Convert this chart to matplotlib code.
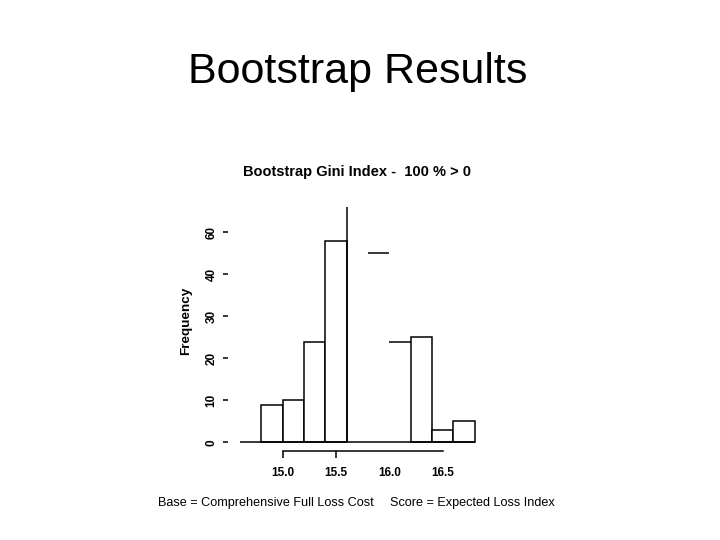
import numpy as np
import matplotlib
matplotlib.use("Agg")
import matplotlib.pyplot as plt

plt.rcParams['font.family'] = ['Liberation Sans', 'DejaVu Sans']

# histogram of bootstrap gini index values
bin_edges = [14.8, 15.0, 15.2, 15.4, 15.6, 15.8, 16.0, 16.2, 16.4, 16.6, 16.8]
counts = [9, 10, 24, 48, 56, 45, 24, 25, 3, 5]

x_ticks = [15.0, 15.5, 16.0, 16.5]
x_labels = ["15.0", "15.5", "16.0", "16.5"]
y_ticks = [0, 10, 20, 30, 40, 50]
y_labels = ["0", "10", "20", "30", "40", "60"]

main_title = "Bootstrap Results"
sub_title = "Bootstrap Gini Index -  100 % > 0"
base_note = "Base = Comprehensive Full Loss Cost"
score_note = "Score = Expected Loss Index"

W, H = 720, 540
fig = plt.figure(figsize=(7.2, 5.4), dpi=100)

# axes placed in pixel coordinates
left_px, right_px, top_px, bot_px = 228, 490, 195, 460
ax = fig.add_axes([left_px / W, 1 - bot_px / H, (right_px - left_px) / W, (bot_px - top_px) / H])

px_per_x = 106.7
x0_px = 282.7
px_per_y = 4.2
y0_px = 442.3
ax.set_xlim(15 - (x0_px - left_px) / px_per_x, 15 + (right_px - x0_px) / px_per_x)
ax.set_ylim((y0_px - bot_px) / px_per_y, (y0_px - top_px) / px_per_y)

edges = np.array(bin_edges)
lefts = edges[:-1]
rights = edges[1:]
cnt = np.array(counts)
widths = rights - lefts

# the picture only shows part of three bars
full = [0, 1, 2, 3, 7, 8, 9]
lw = 1.1
ax.bar(lefts[full], cnt[full], width=widths[full], align='edge',
       facecolor='white', edgecolor='black', linewidth=lw)
ax.vlines(lefts[4], 0, cnt[4], color='black', linewidth=lw)
ax.hlines(cnt[5], lefts[5], rights[5], color='black', linewidth=lw)
ax.hlines(cnt[6], lefts[6], rights[6], color='black', linewidth=lw)
ax.hlines(0, 14.6, edges[-1], color='black', linewidth=lw)

for s in ['top', 'right', 'left']:
    ax.spines[s].set_visible(False)
ax.spines['bottom'].set_position(('data', (y0_px - 451.3) / px_per_y))
ax.spines['bottom'].set_bounds(15.0, 16.5)
ax.spines['bottom'].set_linewidth(lw)

ax.set_xticks(x_ticks)
ax.set_xticklabels(x_labels, fontweight='bold')
for t in ax.xaxis.get_major_ticks()[2:]:
    t.tick1line.set_visible(False)
ax.set_yticks(y_ticks)
ax.set_yticklabels(y_labels, rotation=90, va='center', fontweight='bold')
ax.tick_params(axis='x', length=5, width=lw, pad=6, labelsize=8.5)
ax.tick_params(axis='y', length=3.6, width=lw, pad=4, labelsize=8.5)

fig.text(358 / W, 1 - 83.3 / H, main_title, fontsize=31, ha='center', va='baseline')
fig.text(357 / W, 1 - 176 / H, sub_title, fontsize=10.5, fontweight='bold',
         ha='center', va='baseline')
fig.text(186 / W, 1 - 321 / H, "Frequency", fontsize=9.7, fontweight='bold',
         rotation=90, ha='center', va='center')
fig.text(158 / W, 1 - 506 / H, base_note, fontsize=9.1, ha='left', va='baseline')
fig.text(555 / W, 1 - 506 / H, score_note, fontsize=9.1, ha='right', va='baseline')

fig.savefig("out.png", dpi=100)
